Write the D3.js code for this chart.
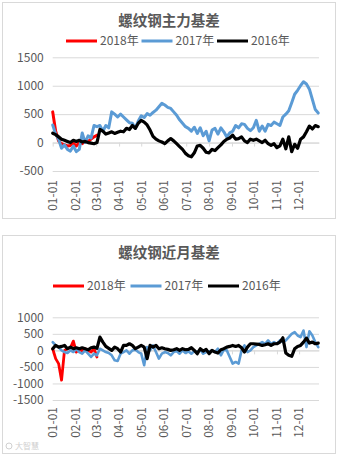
<!DOCTYPE html>
<html>
<head>
<meta charset="utf-8">
<script src="https://cdn.jsdelivr.net/npm/d3@7"></script>
<style>
  body { margin: 0; background: #fff; }
  svg { display: block; font-family: 'Noto Sans CJK SC', 'Noto Sans', sans-serif; }
</style>
</head>
<body>
<svg width="339" height="457"></svg>
<script>
// sample dates (every 4 days)
const dates = [
  '01-01','01-05','01-09','01-13','01-17','01-21','01-25','01-29','02-02','02-06',
  '02-10','02-14','02-18','02-22','02-26','03-02','03-06','03-10','03-14','03-18',
  '03-22','03-26','03-30','04-03','04-07','04-11','04-15','04-19','04-23','04-27',
  '05-01','05-05','05-09','05-13','05-17','05-21','05-25','05-29','06-02','06-06',
  '06-10','06-14','06-18','06-22','06-26','06-30','07-04','07-08','07-12','07-16',
  '07-20','07-24','07-28','08-01','08-05','08-09','08-13','08-17','08-21','08-25',
  '08-29','09-02','09-06','09-10','09-14','09-18','09-22','09-26','09-30','10-04',
  '10-08','10-12','10-16','10-20','10-24','10-28','11-01','11-05','11-09','11-13',
  '11-17','11-21','11-25','11-29','12-03','12-07','12-11','12-15','12-19','12-23',
  '12-27'
];
const monthTicks = ['01-01','02-01','03-01','04-01','05-01','06-01','07-01','08-01','09-01','10-01','11-01','12-01'];
const years = ['2018年', '2017年', '2016年'];
const colors = ['#ff0000', '#5b9bd5', '#000000'];

// 螺纹钢主力基差
const main2018 = [540,200,30,-20,-40,-60,-50,-10,-60,0,-20,30,20,60,100,130];
const main2017 = [
  310,150,60,-100,-40,-120,-150,-60,-160,-120,
  170,0,120,80,300,280,300,200,300,260,
  540,500,450,500,450,400,350,340,250,380,
  470,440,510,480,530,570,630,690,660,620,
  600,540,480,400,340,280,250,200,270,160,
  260,120,200,30,220,250,150,260,190,100,
  170,200,300,260,330,320,250,210,260,390,
  200,290,200,320,300,360,330,300,450,500,
  560,700,850,920,1000,1070,1030,940,760,580,
  520
];
const main2016 = [
  165,140,100,60,40,20,0,40,20,40,
  10,20,0,-10,-20,0,230,200,150,170,
  190,160,180,200,190,250,230,300,250,340,
  390,360,310,220,110,60,30,10,-20,30,
  70,30,-20,-70,-120,-190,-230,-250,-180,-60,
  -50,-100,-170,-180,-120,-140,-90,-40,20,60,
  80,130,60,70,100,30,0,60,40,60,
  30,0,40,-20,-50,-20,-90,-60,60,-110,
  100,-160,-30,-100,60,100,190,290,240,300,
  280
];

// 螺纹钢近月基差
const near2018 = [50,-250,-400,-900,0,50,80,280,-50,50,-20,50,0,-50,50,-200];
const near2017 = [
  250,150,100,0,-50,-80,0,-50,50,-50,
  -100,0,-100,-200,-100,-150,50,0,-50,-80,
  -150,-300,-320,-100,-50,0,-100,0,20,-50,
  -100,-450,100,0,150,-50,-250,-100,-50,-80,
  -150,-50,-20,-100,0,-80,-30,-100,-20,-50,
  20,-100,-50,-30,0,-50,50,-150,20,0,
  -200,-400,-350,-400,0,150,-50,0,100,150,
  200,250,200,300,200,250,200,300,250,300,
  400,500,550,450,400,600,100,580,450,250,
  100
];
const near2016 = [
  50,150,100,120,150,50,100,50,80,50,
  80,50,20,80,100,60,400,250,120,60,
  0,100,50,-50,150,150,200,150,50,100,
  150,100,-250,150,100,150,50,80,50,30,
  0,20,50,0,50,20,30,80,0,-100,
  50,-20,30,-100,0,-50,-80,20,50,100,
  120,150,120,150,80,-50,100,200,200,190,
  180,150,170,200,150,200,200,250,380,-80,
  -150,-180,50,120,150,250,370,220,250,200,
  220
];

const mainTicks = [1500, 1000, 500, 0, -500];
const nearTicks = [1000, 500, 0, -500, -1000, -1500];

(function (d3) {
  'use strict';

  const svg = d3.select('svg');
  const parseDay = d3.timeParse('%Y-%m-%d');
  const toDate = s => parseDay('2017-' + s);

  const xScale = d3.scaleTime()
    .domain([toDate('01-01'), toDate('12-28')])
    .range([52.7, 319]);

  const render = (opts) => {
    const g = svg.append('g');

    // frame
    g.append('rect')
      .attr('x', 2.5).attr('y', opts.top + 0.5)
      .attr('width', 333).attr('height', opts.frameHeight)
      .attr('fill', '#fff')
      .attr('stroke', '#d9d9d9');

    g.append('text')
      .attr('x', 169)
      .attr('y', opts.titleY)
      .attr('text-anchor', 'middle')
      .attr('font-size', 14.5)
      .attr('font-weight', 'bold')
      .attr('fill', '#595959')
      .text(opts.title);

    // legend
    years.forEach((yr, i) => {
      const lx = opts.legendX + i * opts.legendStep;
      g.append('line')
        .attr('x1', lx).attr('x2', lx + 31)
        .attr('y1', opts.legendY).attr('y2', opts.legendY)
        .attr('stroke', colors[i])
        .attr('stroke-width', 3);
      g.append('text')
        .attr('x', lx + 34)
        .attr('y', opts.legendY)
        .attr('dy', '0.36em')
        .attr('font-size', 12)
        .attr('fill', '#595959')
        .text(yr);
    });

    const yScale = d3.scaleLinear()
      .domain(opts.yDomain)
      .range(opts.yRange);

    const yAxis = d3.axisLeft(yScale)
      .tickValues(opts.ticks)
      .tickSize(-(319 - 52.7))
      .tickPadding(9)
      .tickFormat(d => String(d));

    const yAxisG = g.append('g')
      .attr('transform', 'translate(52.7,0)')
      .call(yAxis);
    yAxisG.select('.domain').remove();
    yAxisG.selectAll('.tick line').attr('stroke', '#d9d9d9');
    yAxisG.selectAll('.tick text')
      .attr('fill', '#595959')
      .attr('font-size', 12)
      .attr('font-family', "'Noto Sans CJK SC', sans-serif");

    // horizontal axis sits on zero, labels are placed low
    const xAxis = d3.axisBottom(xScale)
      .tickValues(monthTicks.map(toDate))
      .tickSize(4)
      .tickSizeOuter(0)
      .tickFormat('');
    const xAxisG = g.append('g')
      .attr('transform', `translate(0,${yScale(0)})`)
      .call(xAxis);
    xAxisG.select('.domain').attr('stroke', '#d9d9d9');
    xAxisG.selectAll('.tick line').attr('stroke', '#d9d9d9');

    g.selectAll('.month-label').data(monthTicks)
      .enter().append('text')
        .attr('class', 'month-label')
        .attr('transform', d => `translate(${xScale(toDate(d))},${opts.labelTop}) rotate(-90)`)
        .attr('text-anchor', 'end')
        .attr('dy', '0.36em')
        .attr('font-size', 12)
        .attr('fill', '#595959')
        .text(d => d);

    const line = d3.line()
      .x(d => xScale(d.date))
      .y(d => yScale(d.value));

    opts.series.forEach((values, i) => {
      const pts = values.map((v, j) => ({ date: toDate(dates[j]), value: v }));
      g.append('path')
        .datum(pts)
        .attr('fill', 'none')
        .attr('stroke', colors[i])
        .attr('stroke-width', opts.lineWidth[i])
        .attr('stroke-linejoin', 'round')
        .attr('stroke-linecap', 'round')
        .attr('d', line);
    });

    return g;
  };

  render({
    top: 2,
    frameHeight: 216,
    title: '螺纹钢主力基差',
    titleY: 26,
    legendX: 66,
    legendStep: 75.5,
    legendY: 41,
    yDomain: [-500, 1500],
    yRange: [171, 57.3],
    ticks: mainTicks,
    labelTop: 180,
    series: [main2018, main2017, main2016],
    lineWidth: [3, 3, 3.2]
  });

  const g2 = render({
    top: 235,
    frameHeight: 218,
    title: '螺纹钢近月基差',
    titleY: 258,
    legendX: 53,
    legendStep: 77.5,
    legendY: 286,
    yDomain: [-1500, 1000],
    yRange: [400, 317.3],
    ticks: nearTicks,
    labelTop: 407,
    series: [near2018, near2017, near2016],
    lineWidth: [2.8, 2.6, 3.2]
  });

  // faint watermark
  g2.append('circle')
    .attr('cx', 9).attr('cy', 446).attr('r', 3)
    .attr('fill', 'none').attr('stroke', '#d0d0d0');
  g2.append('text')
    .attr('x', 15).attr('y', 449)
    .attr('font-size', 8)
    .attr('fill', '#cfcfcf')
    .text('大智慧');
}(d3));
</script>
</body>
</html>
